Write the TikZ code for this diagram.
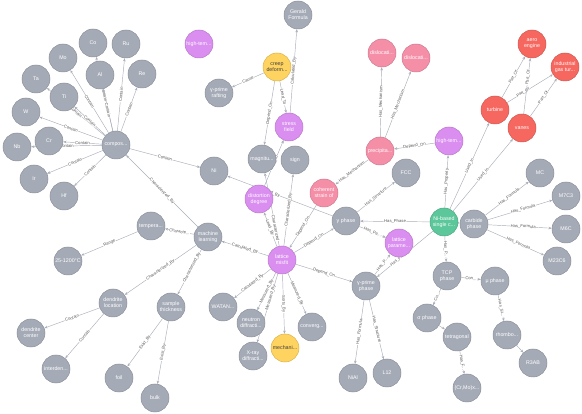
\documentclass[tikz,border=0pt]{standalone}
\usepackage{fontspec}
\setmainfont{Liberation Sans}
\usetikzlibrary{arrows.meta}
\definecolor{grayN}{HTML}{A5ABB6}
\definecolor{purpN}{HTML}{D98EF0}
\definecolor{yelN}{HTML}{FFD35F}
\definecolor{pinkN}{HTML}{F58FA8}
\definecolor{redN}{HTML}{F6675F}
\definecolor{greenN}{HTML}{5CC79A}
\definecolor{relC}{HTML}{A9AEB8}
\pgfdeclarelayer{bg}
\pgfsetlayers{bg,main}

\begin{document}
\begin{tikzpicture}[x=1pt,y=-1pt,
  ent/.style={circle,minimum size=28pt,inner sep=0pt,align=center,text=white,
    font=\fontsize{5.3}{6}\selectfont,draw=#1!85!black,fill=#1,line width=0.5pt},
  ent/.default=grayN,
  rel/.style={draw=relC,line width=0.45pt,-{Stealth[length=3.2pt,width=2.6pt]}},
  elab/.style={midway,sloped,fill=white,inner sep=0.4pt,text=black!65,
    font=\fontsize{4.2}{5}\selectfont}]
  \useasboundingbox (0,0) rectangle (582,414);

  % composition and its elements
  \node[ent] (comp) at (116,145) {compos...};
  \node[ent] (co) at (93,43) {Co};
  \node[ent] (ru) at (126,44) {Ru};
  \node[ent] (mo) at (63,58) {Mo};
  \node[ent] (al) at (100,75) {Al};
  \node[ent] (re) at (142,74) {Re};
  \node[ent] (ta) at (36,79) {Ta};
  \node[ent] (ti) at (64,97) {Ti};
  \node[ent] (w) at (26,112) {W};
  \node[ent] (cr) at (49,141) {Cr};
  \node[ent] (nb) at (17,147) {Nb};
  \node[ent] (ir) at (34,179) {Ir};
  \node[ent] (hf) at (64,196) {Hf};
  \node[ent] (ni) at (214,171) {Ni};

  % creep / stress
  \node[ent=purpN] (hitemA) at (199,44) {high-tem...};
  \node[ent] (gerald) at (298,15) {Gerald\\Formula};
  \node[ent=yelN,text=black!75] (creep) at (277,67) {creep\\deform...};
  \node[ent] (raft) at (219,93) {γ-prime\\rafting};
  \node[ent=purpN] (stress) at (289,127) {stress\\field};
  \node[ent] (magn) at (262,159) {magnitu...};
  \node[ent] (sign) at (295,160) {sign};
  \node[ent=purpN] (dist) at (259,199) {distortion\\degree};
  \node[ent=pinkN] (coh) at (324,193) {coherent\\strain of};

  % precipitation
  \node[ent=pinkN] (prec) at (380,151) {precipita...};
  \node[ent=pinkN] (disA) at (382,53) {dislocati...};
  \node[ent=pinkN] (disB) at (416,58) {dislocati...};
  \node[ent=purpN] (hitemB) at (449,141) {high-tem...};

  % applications
  \node[ent=redN] (aero) at (532,44) {aero\\engine};
  \node[ent=redN] (gas) at (565,67) {industrial\\gas tur...};
  \node[ent=redN] (turb) at (495,110) {turbine};
  \node[ent=redN] (vanes) at (522,128) {vanes};

  % alloy and phases
  \node[ent=greenN] (nibase) at (444,222) {Ni-based\\single c...};
  \node[ent] (fcc) at (406,173) {FCC};
  \node[ent] (carb) at (474,224) {carbide\\phase};
  \node[ent] (mc) at (540,173) {MC};
  \node[ent] (mtc) at (566,196) {M7C3};
  \node[ent] (msc) at (566,229) {M6C};
  \node[ent] (mtsc) at (557,261) {M23C6};
  \node[ent] (gam) at (346,221) {γ phase};
  \node[ent=purpN] (latpar) at (399,243) {lattice\\parame...};
  \node[ent] (gpr) at (366,286) {γ-prime\\phase};
  \node[ent] (tcp) at (447,276) {TCP\\phase};
  \node[ent] (mu) at (495,281) {μ phase};
  \node[ent] (sig) at (427,318) {σ phase};
  \node[ent] (tetra) at (457,337) {tetragonal};
  \node[ent] (rhombo) at (507,335) {rhombo...};
  \node[ent] (rtab) at (533,363) {R3AB};
  \node[ent] (ltw) at (387,373) {L12};
  \node[ent] (crmo) at (467,388) {(Cr,Mo)x...};
  \node[ent] (nial) at (353,378) {NiAl};

  % lattice misfit and its measurement
  \node[ent=purpN] (misfit) at (282,260) {lattice\\misfit};
  \node[ent] (ml) at (208,237) {machine\\learning};
  \node[ent] (temp) at (151,226) {tempera...};
  \node[ent] (range) at (68,261) {25-1200°C};
  \node[ent] (dloc) at (113,303) {dendrite\\location};
  \node[ent] (samp) at (171,307) {sample\\thickness};
  \node[ent] (dcen) at (31,333) {dendrite\\center};
  \node[ent] (inter) at (56,369) {interden...};
  \node[ent] (foil) at (119,378) {foil};
  \node[ent] (bulk) at (155,398) {bulk};
  \node[ent] (watan) at (223,307) {WATAN...};
  \node[ent] (neut) at (251,323) {neutron\\diffracti...};
  \node[ent] (xray) at (253,356) {X-ray\\diffracti...};
  \node[ent=yelN,text=black!75] (mech) at (285,348) {mechani...};
  \node[ent] (conv) at (312,327) {converg...};

  \begin{pgfonlayer}{bg}
  % contain
  \foreach \e in {co,ru,mo,al,re,ta,ti,w,cr,nb,ir,hf,ni}
    \draw[rel] (comp) -- node[elab] {Contain} (\e);
  \draw[rel] (ml) -- node[elab] {Characterized\_By} (comp);

  % creep side
  \draw[rel] (creep) -- node[elab] {Cause} (raft);
  \draw[rel] (creep) -- node[elab] {Depend\_On} (magn);
  \draw[rel] (creep) -- node[elab] {Lead\_To} (stress);
  \draw[rel] (stress) -- node[elab] {Calculated\_By} (gerald);
  \draw[rel] (dist) -- node[elab] {Lead\_To} (stress);
  \draw[rel] (misfit) -- node[elab,pos=0.25] {Characterized} (magn);
  \draw[rel] (misfit) -- node[elab] {Characterized\_By} (sign);
  \draw[rel] (misfit) -- node[elab,pos=0.55] {Lead\_By} (dist);
  \draw[rel] (gam) -- node[elab,pos=0.6] {Formed\_By} (ni);
  \draw[rel] (coh) -- node[elab] {Depend\_On} (misfit);

  % precipitation side
  \draw[rel] (prec) -- node[elab] {Has\_Mechanism} (disA);
  \draw[rel] (prec) -- node[elab] {Has\_Mechanism} (disB);
  \draw[rel] (prec) -- node[elab] {Has\_Mechanism} (coh);
  \draw[rel] (hitemB) -- node[elab] {Depend\_On} (prec);

  % applications
  \draw[rel] (turb) -- node[elab] {Part\_Of} (aero);
  \draw[rel] (turb) -- node[elab,pos=0.35] {Part\_Of} (gas);
  \draw[rel] (vanes) -- node[elab,pos=0.65] {Part\_Of} (aero);
  \draw[rel] (vanes) -- node[elab] {Part\_Of} (gas);
  \draw[rel] (nibase) -- node[elab] {Used\_In} (turb);
  \draw[rel] (nibase) -- node[elab] {Used\_In} (vanes);
  \draw[rel] (nibase) -- node[elab] {Has\_Property} (hitemB);

  % phases
  \draw[rel] (nibase) -- node[elab] {Has\_Phase} (gam);
  \draw[rel] (nibase) -- node[elab,pos=0.6] {Has\_Phase} (gpr);
  \draw[rel] (nibase) -- node[elab] {Has\_P...} (tcp);
  \draw[rel] (nibase) -- (carb);
  \draw[rel] (gam) -- node[elab] {Has\_Structure} (fcc);
  \draw[rel] (gam) -- node[elab] {Has\_Pa...} (latpar);
  \draw[rel] (gpr) -- node[elab] {Has\_P...} (latpar);
  \draw[rel] (gpr) -- node[elab] {Has\_Formula} (nial);
  \draw[rel] (gpr) -- node[elab] {Has\_Structure} (ltw);
  \foreach \e in {mc,mtc,msc,mtsc}
    \draw[rel] (carb) -- node[elab,pos=0.55] {Has\_Formula} (\e);
  \draw[rel] (tcp) -- node[elab] {Con...} (mu);
  \draw[rel] (tcp) -- node[elab] {Co...} (sig);
  \draw[rel] (mu) -- node[elab] {Has\_St...} (rhombo);
  \draw[rel] (rhombo) -- (rtab);
  \draw[rel] (sig) -- (tetra);
  \draw[rel] (tetra) -- node[elab] {Has\_F...} (crmo);

  % lattice misfit
  \draw[rel] (misfit) -- node[elab] {Depend\_On} (gam);
  \draw[rel] (misfit) -- node[elab] {Depend\_On} (gpr);
  \draw[rel] (misfit) -- node[elab] {Calculated\_By} (ml);
  \draw[rel] (misfit) -- node[elab] {Calculated\_By} (watan);
  \draw[rel] (misfit) -- node[elab] {Measured\_By} (neut);
  \draw[rel] (misfit) -- node[elab,pos=0.35] {Measured\_By} (xray);
  \draw[rel] (misfit) -- node[elab] {Sorts\_By} (mech);
  \draw[rel] (misfit) -- node[elab] {Measured\_By} (conv);

  % machine learning
  \draw[rel] (ml) -- node[elab] {Characte...} (temp);
  \draw[rel] (ml) -- node[elab] {Characterized\_By} (dloc);
  \draw[rel] (ml) -- node[elab,pos=0.4] {Characterized\_By} (samp);
  \draw[rel] (temp) -- node[elab] {Range} (range);
  \draw[rel] (dloc) -- node[elab] {Contain} (dcen);
  \draw[rel] (dloc) -- node[elab] {Contain} (inter);
  \draw[rel] (samp) -- node[elab] {Exist\_By} (foil);
  \draw[rel] (samp) -- node[elab] {Exist\_By} (bulk);
  \end{pgfonlayer}
\end{tikzpicture}
\end{document}
